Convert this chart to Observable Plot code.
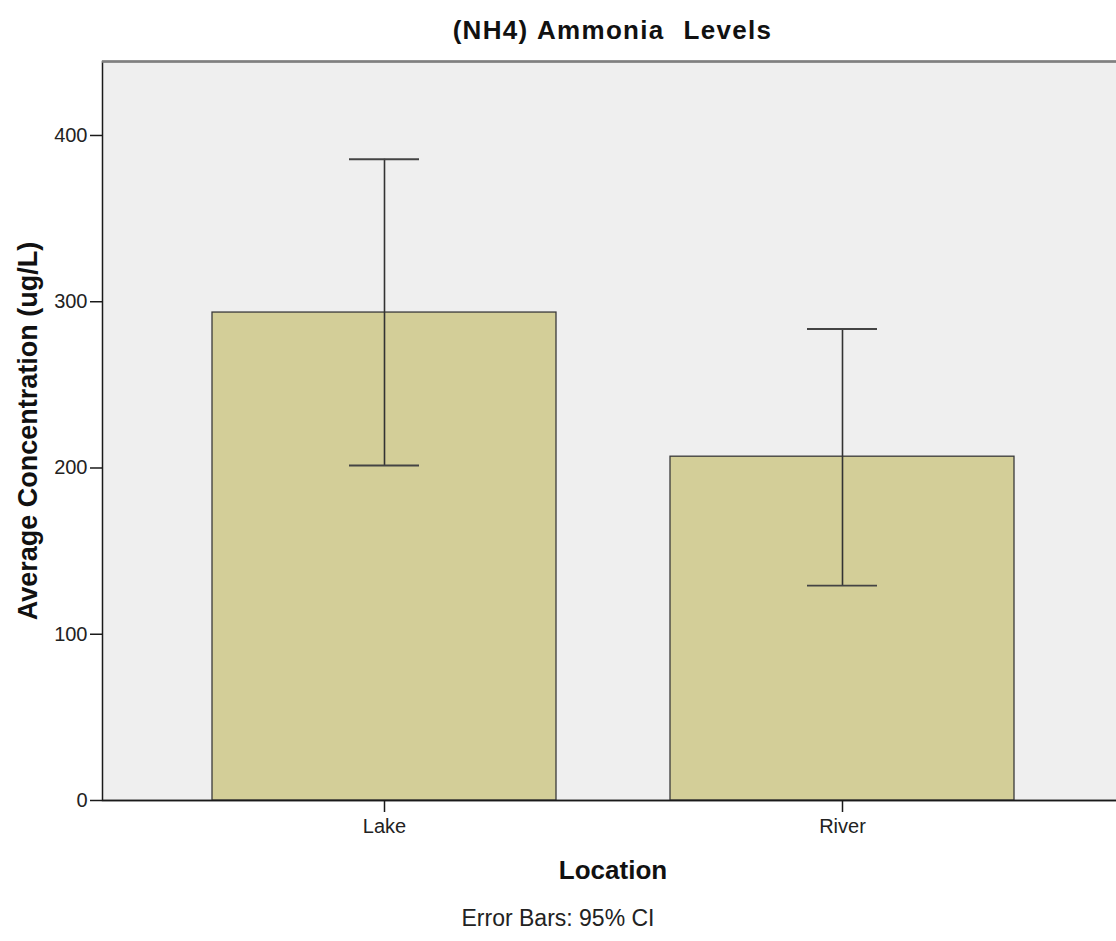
<!DOCTYPE html>
<html>
<head>
<meta charset="utf-8">
<script src="https://cdn.jsdelivr.net/npm/d3@7"></script>
<script src="https://cdn.jsdelivr.net/npm/@observablehq/plot@0.6"></script>
<style>
  html, body { margin: 0; padding: 0; background: #ffffff; overflow: hidden; width: 1116px; height: 941px; }
  #wrap { width: 1116px; overflow: hidden; font-family: "Liberation Sans", Arial, sans-serif; }
  #title { box-sizing: border-box; height: 56px; padding-top: 4px; line-height: 52px; margin-left: 102px; width: 1021px;
           text-align: center; font-size: 26px; font-weight: bold; color: #111; white-space: pre;
           letter-spacing: 1.3px; word-spacing: 1px; }
  #chart { width: 1116px; overflow: hidden; }
  #chart svg { display: block; max-width: none !important; }
  #caption { margin-top: 20px; width: 1116px; text-align: center; font-size: 23px; line-height: 26px; color: #222; }
</style>
</head>
<body>
<div id="wrap">
  <div id="title">(NH4) Ammonia  Levels</div>
  <div id="chart"></div>
  <div id="caption">Error Bars: 95% CI</div>
</div>
<script>
const locations = ["Lake", "River"];
const means = [293.5, 206.8];
const ciLower = [201.5, 129.3];
const ciUpper = [385.7, 283.6];
const yTicks = [0, 100, 200, 300, 400];
const yMax = 444.5;
const xLabel = "Location";
const yLabel = "Average Concentration (ug/L)";

const data = locations.map((loc, i) => ({location: loc, mean: means[i], lo: ciLower[i], hi: ciUpper[i]}));

const chart = Plot.plot({
  width: 1123,
  height: 829,
  marginTop: 5,
  marginLeft: 102,
  marginRight: 0,
  marginBottom: 85,
  style: {fontFamily: "'Liberation Sans', Arial, sans-serif", background: "transparent", color: "#222", maxWidth: "none"},
  x: {domain: locations, paddingInner: 0.25, paddingOuter: 0.238},
  y: {domain: [0, yMax]},
  marks: [
    Plot.frame({fill: "#efefef", stroke: "#1a1a1a", strokeWidth: 1.5}),
    Plot.ruleY([yMax], {stroke: "#808080", strokeWidth: 2.5}),
    Plot.barY(data, {x: "location", y: "mean", fill: "#d3ce98", stroke: "#3a3a3a", strokeWidth: 1.3}),
    Plot.ruleX(data, {x: "location", y1: "lo", y2: "hi", stroke: "#333333", strokeWidth: 1.6}),
    Plot.tickY(data, {x: "location", y: "lo", insetLeft: 137, insetRight: 137, stroke: "#444444", strokeWidth: 1.8}),
    Plot.tickY(data, {x: "location", y: "hi", insetLeft: 137, insetRight: 137, stroke: "#444444", strokeWidth: 1.8}),
    Plot.ruleY([0], {stroke: "#1a1a1a", strokeWidth: 1.5}),
    Plot.axisY({ticks: yTicks, tickSize: 12, tickPadding: 3, fontSize: 20, label: null, stroke: "#1a1a1a", strokeWidth: 1.5}),
    Plot.axisX({tickSize: 12, tickPadding: 6, fontSize: 20, label: null, stroke: "#1a1a1a", strokeWidth: 1.5}),
    Plot.text([xLabel], {frameAnchor: "bottom", lineAnchor: "bottom", dy: 78, fontSize: 26, fontWeight: "bold", fill: "#111"}),
    Plot.text([yLabel], {frameAnchor: "left", textAnchor: "middle", lineAnchor: "bottom", rotate: -90, dx: -66, fontSize: 27, fontWeight: "bold", fill: "#111"})
  ]
});
document.getElementById("chart").appendChild(chart);
</script>
</body>
</html>
